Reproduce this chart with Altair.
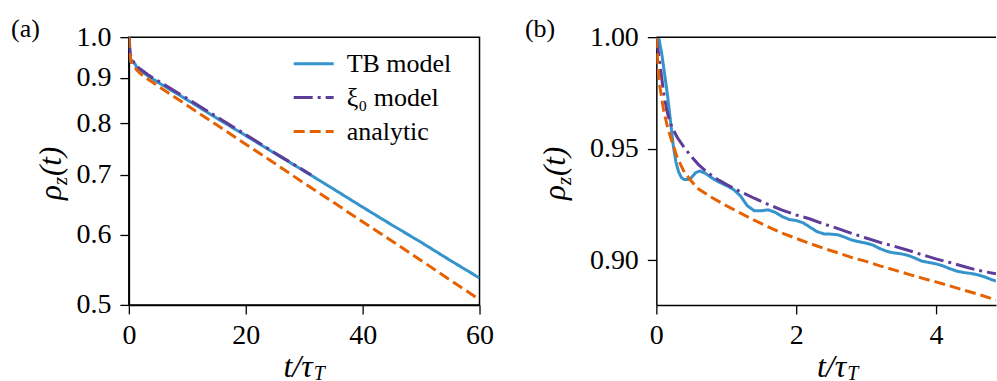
import altair as alt
import pandas as pd

SERIF = "Liberation Serif"
GUIDE_FONT = "Times New Roman"

SERIES = ["TB model", "ξ₀ model", "analytic"]
COLORS = ["#3594cc", "#5e3c99", "#e66101"]
DASHES = [[1, 0], [19, 5, 3, 5], [11, 5]]

# TB model (blue, solid)
t_tb = [0, 0.04, 0.08, 0.12, 0.16, 0.20, 0.24, 0.28, 0.32, 0.36, 0.40, 0.45, 0.50, 0.56,
        0.62, 0.70, 0.80, 0.90, 1.00, 1.10, 1.20, 1.30, 1.40, 1.50, 1.60, 1.70, 1.80, 1.90,
        2.00, 2.10, 2.20, 2.30, 2.40, 2.50, 2.60, 2.70, 2.80, 2.90, 3.00, 3.10, 3.20, 3.30,
        3.40, 3.50, 3.60, 3.70, 3.80, 3.90, 4.00, 4.10, 4.20, 4.30, 4.40, 4.50, 4.60, 4.70,
        4.80, 4.86, 10, 15, 20, 25, 30, 35, 40, 45, 50, 55, 60]
v_tb = [1.000, 0.999, 0.992, 0.983, 0.974, 0.963, 0.952, 0.944, 0.9395, 0.937, 0.9362, 0.9362,
        0.937, 0.9392, 0.940, 0.939, 0.9368, 0.935, 0.9335, 0.9318, 0.929, 0.9245, 0.9222,
        0.9222, 0.9226, 0.9215, 0.9196, 0.9183, 0.9178, 0.9168, 0.9148, 0.9128, 0.9118,
        0.9117, 0.9114, 0.9103, 0.909, 0.9083, 0.9077, 0.9068, 0.9052, 0.904, 0.9033, 0.9029,
        0.9022, 0.901, 0.8996, 0.899, 0.8984, 0.8975, 0.8962, 0.8951, 0.8945, 0.8941, 0.8935,
        0.8925, 0.8913, 0.8907, 0.850, 0.811, 0.775, 0.740, 0.707, 0.675, 0.644, 0.615, 0.588,
        0.561, 0.536]

# xi_0 model (purple, dash-dot)
t_xi = [0, 0.03, 0.06, 0.10, 0.15, 0.20, 0.25, 0.30, 0.40, 0.50, 0.60, 0.70, 0.80, 0.90, 1.00,
        1.20, 1.40, 1.60, 1.80, 2.00, 2.20, 2.40, 2.60, 2.80, 3.00, 3.20, 3.40, 3.60, 3.80,
        4.00, 4.20, 4.40, 4.60, 4.86, 10, 15, 20, 25, 31.2]
v_xi = [1.000, 0.993, 0.986, 0.976, 0.967, 0.9615, 0.958, 0.955, 0.9505, 0.9465, 0.943, 0.9402,
        0.9378, 0.9358, 0.934, 0.9308, 0.9278, 0.925, 0.9225, 0.9203, 0.9185, 0.9162, 0.9142,
        0.912, 0.910, 0.908, 0.9063, 0.9045, 0.9025, 0.9006, 0.899, 0.8972, 0.8955, 0.8939,
        0.853, 0.814, 0.777, 0.741, 0.700]

# analytic (orange, dashed)
t_an = [0, 0.02, 0.05, 0.10, 0.15, 0.20, 0.30, 0.40, 0.50, 0.60, 0.80, 1.00, 1.20, 1.40, 1.60,
        1.80, 2.00, 2.20, 2.40, 2.60, 2.80, 3.00, 3.20, 3.40, 3.60, 3.80, 4.00, 4.20, 4.40,
        4.60, 4.86, 10, 15, 20, 25, 30, 35, 40, 45, 50, 55, 60]
v_an = [1.000, 0.988, 0.978, 0.968, 0.961, 0.9555, 0.946, 0.9395, 0.9355, 0.932, 0.928, 0.9245,
        0.9212, 0.918, 0.915, 0.9122, 0.9098, 0.9075, 0.9053, 0.9033, 0.9012, 0.8995, 0.8975,
        0.8957, 0.8938, 0.892, 0.8903, 0.8885, 0.8866, 0.8848, 0.8822, 0.838, 0.797, 0.758,
        0.721, 0.685, 0.652, 0.620, 0.590, 0.561, 0.533, 0.507]

xticks_a = [0, 20, 40, 60]
yticks_a = [0.5, 0.6, 0.7, 0.8, 0.9, 1.0]
xticks_b = [0, 2, 4]
yticks_b = [0.90, 0.95, 1.00]
XMAX_B = 4.86

frames = []
for name, ts, vs in [(SERIES[0], t_tb, v_tb), (SERIES[1], t_xi, v_xi), (SERIES[2], t_an, v_an)]:
    frames.append(pd.DataFrame({"t": ts, "rho": vs, "series": name}))
df = pd.concat(frames, ignore_index=True)
df_b = df[df["t"] <= XMAX_B + 1e-9]

W_A, W_B, H = 351, 340, 268


def txt(s, x, y, size, style="normal", angle=0, align="left", baseline="alphabetic"):
    return alt.Chart(pd.DataFrame({"s": [s]})).mark_text(
        font=SERIF, fontSize=size, fontStyle=style, angle=angle, align=align,
        baseline=baseline, color="black"
    ).encode(text="s:N", x=alt.value(x), y=alt.value(y))


def titles(ya, x_anchor):
    return [
        txt("t/τ", x_anchor, 340, 32, "italic", align="right"),
        txt("T", x_anchor + 1, 343, 20, "italic"),
        txt("ρ", ya, 163, 31, "italic", angle=270),
        txt("z", ya + 6, 148, 21, "italic", angle=270),
        txt("(t)", ya, 139, 31, "italic", angle=270),
    ]


def axis(vals, fmt, pad):
    return alt.Axis(values=vals, format=fmt, title=None, labelFont=GUIDE_FONT,
                    labelFontSize=28, labelPadding=pad, labelFlush=False,
                    labelOverlap=False, grid=False, tickColor="black", tickSize=9,
                    tickWidth=1.3, domainColor="black", domainWidth=1.5,
                    labelColor="black")


legend = alt.Legend(orient="none", legendX=172, legendY=13.5, title=None,
                    symbolType="M-2,0H2", symbolSize=400, symbolStrokeWidth=3,
                    labelFont=GUIDE_FONT, labelFontSize=26, labelOffset=20, rowPadding=8,
                    padding=0, labelLimit=400, labelColor="black")

lines_a = alt.Chart(df).mark_line(strokeWidth=3, clip=True, strokeCap="butt").encode(
    x=alt.X("t:Q", scale=alt.Scale(domain=[0, 60], nice=False, zero=False),
            axis=axis(xticks_a, "d", 8)),
    y=alt.Y("rho:Q", scale=alt.Scale(type="log", domain=[0.5, 1.0], nice=False),
            axis=axis(yticks_a, ".1f", 9)),
    color=alt.Color("series:N", scale=alt.Scale(domain=SERIES, range=COLORS), legend=legend),
    strokeDash=alt.StrokeDash("series:N", scale=alt.Scale(domain=SERIES, range=DASHES),
                              legend=legend),
)

panel_a = alt.layer(
    lines_a,
    txt("(a)", -118, 0, 26),
    *titles(-68, 184),
).properties(width=W_A, height=H,
             view=alt.ViewBackground(stroke="black", strokeWidth=1.5, strokeOpacity=1))

lines_b = alt.Chart(df_b).mark_line(strokeWidth=3, clip=True, strokeCap="butt").encode(
    x=alt.X("t:Q", scale=alt.Scale(domain=[0, XMAX_B], nice=False, zero=False),
            axis=axis(xticks_b, "d", 8)),
    y=alt.Y("rho:Q", scale=alt.Scale(domain=[0.88, 1.0], nice=False, zero=False),
            axis=axis(yticks_b, ".2f", 9)),
    color=alt.Color("series:N", scale=alt.Scale(domain=SERIES, range=COLORS), legend=None),
    strokeDash=alt.StrokeDash("series:N", scale=alt.Scale(domain=SERIES, range=DASHES),
                              legend=None),
)

top_rule = alt.Chart(pd.DataFrame({"rho": [1.0]})).mark_rule(
    color="black", strokeWidth=1.5).encode(y="rho:Q")

panel_b = alt.layer(
    lines_b,
    top_rule,
    txt("(b)", -131.5, 0, 26),
    *titles(-91.5, 190),
).properties(width=W_B, height=H,
             view=alt.ViewBackground(strokeOpacity=0))

chart = alt.hconcat(panel_a, panel_b, spacing=177, bounds="flush").resolve_scale(
    color="independent", strokeDash="independent"
).properties(
    padding={"left": 10, "top": 15, "right": 0, "bottom": 0},
)

chart.save("out.html", embed_options={"renderer": "svg", "actions": False})
